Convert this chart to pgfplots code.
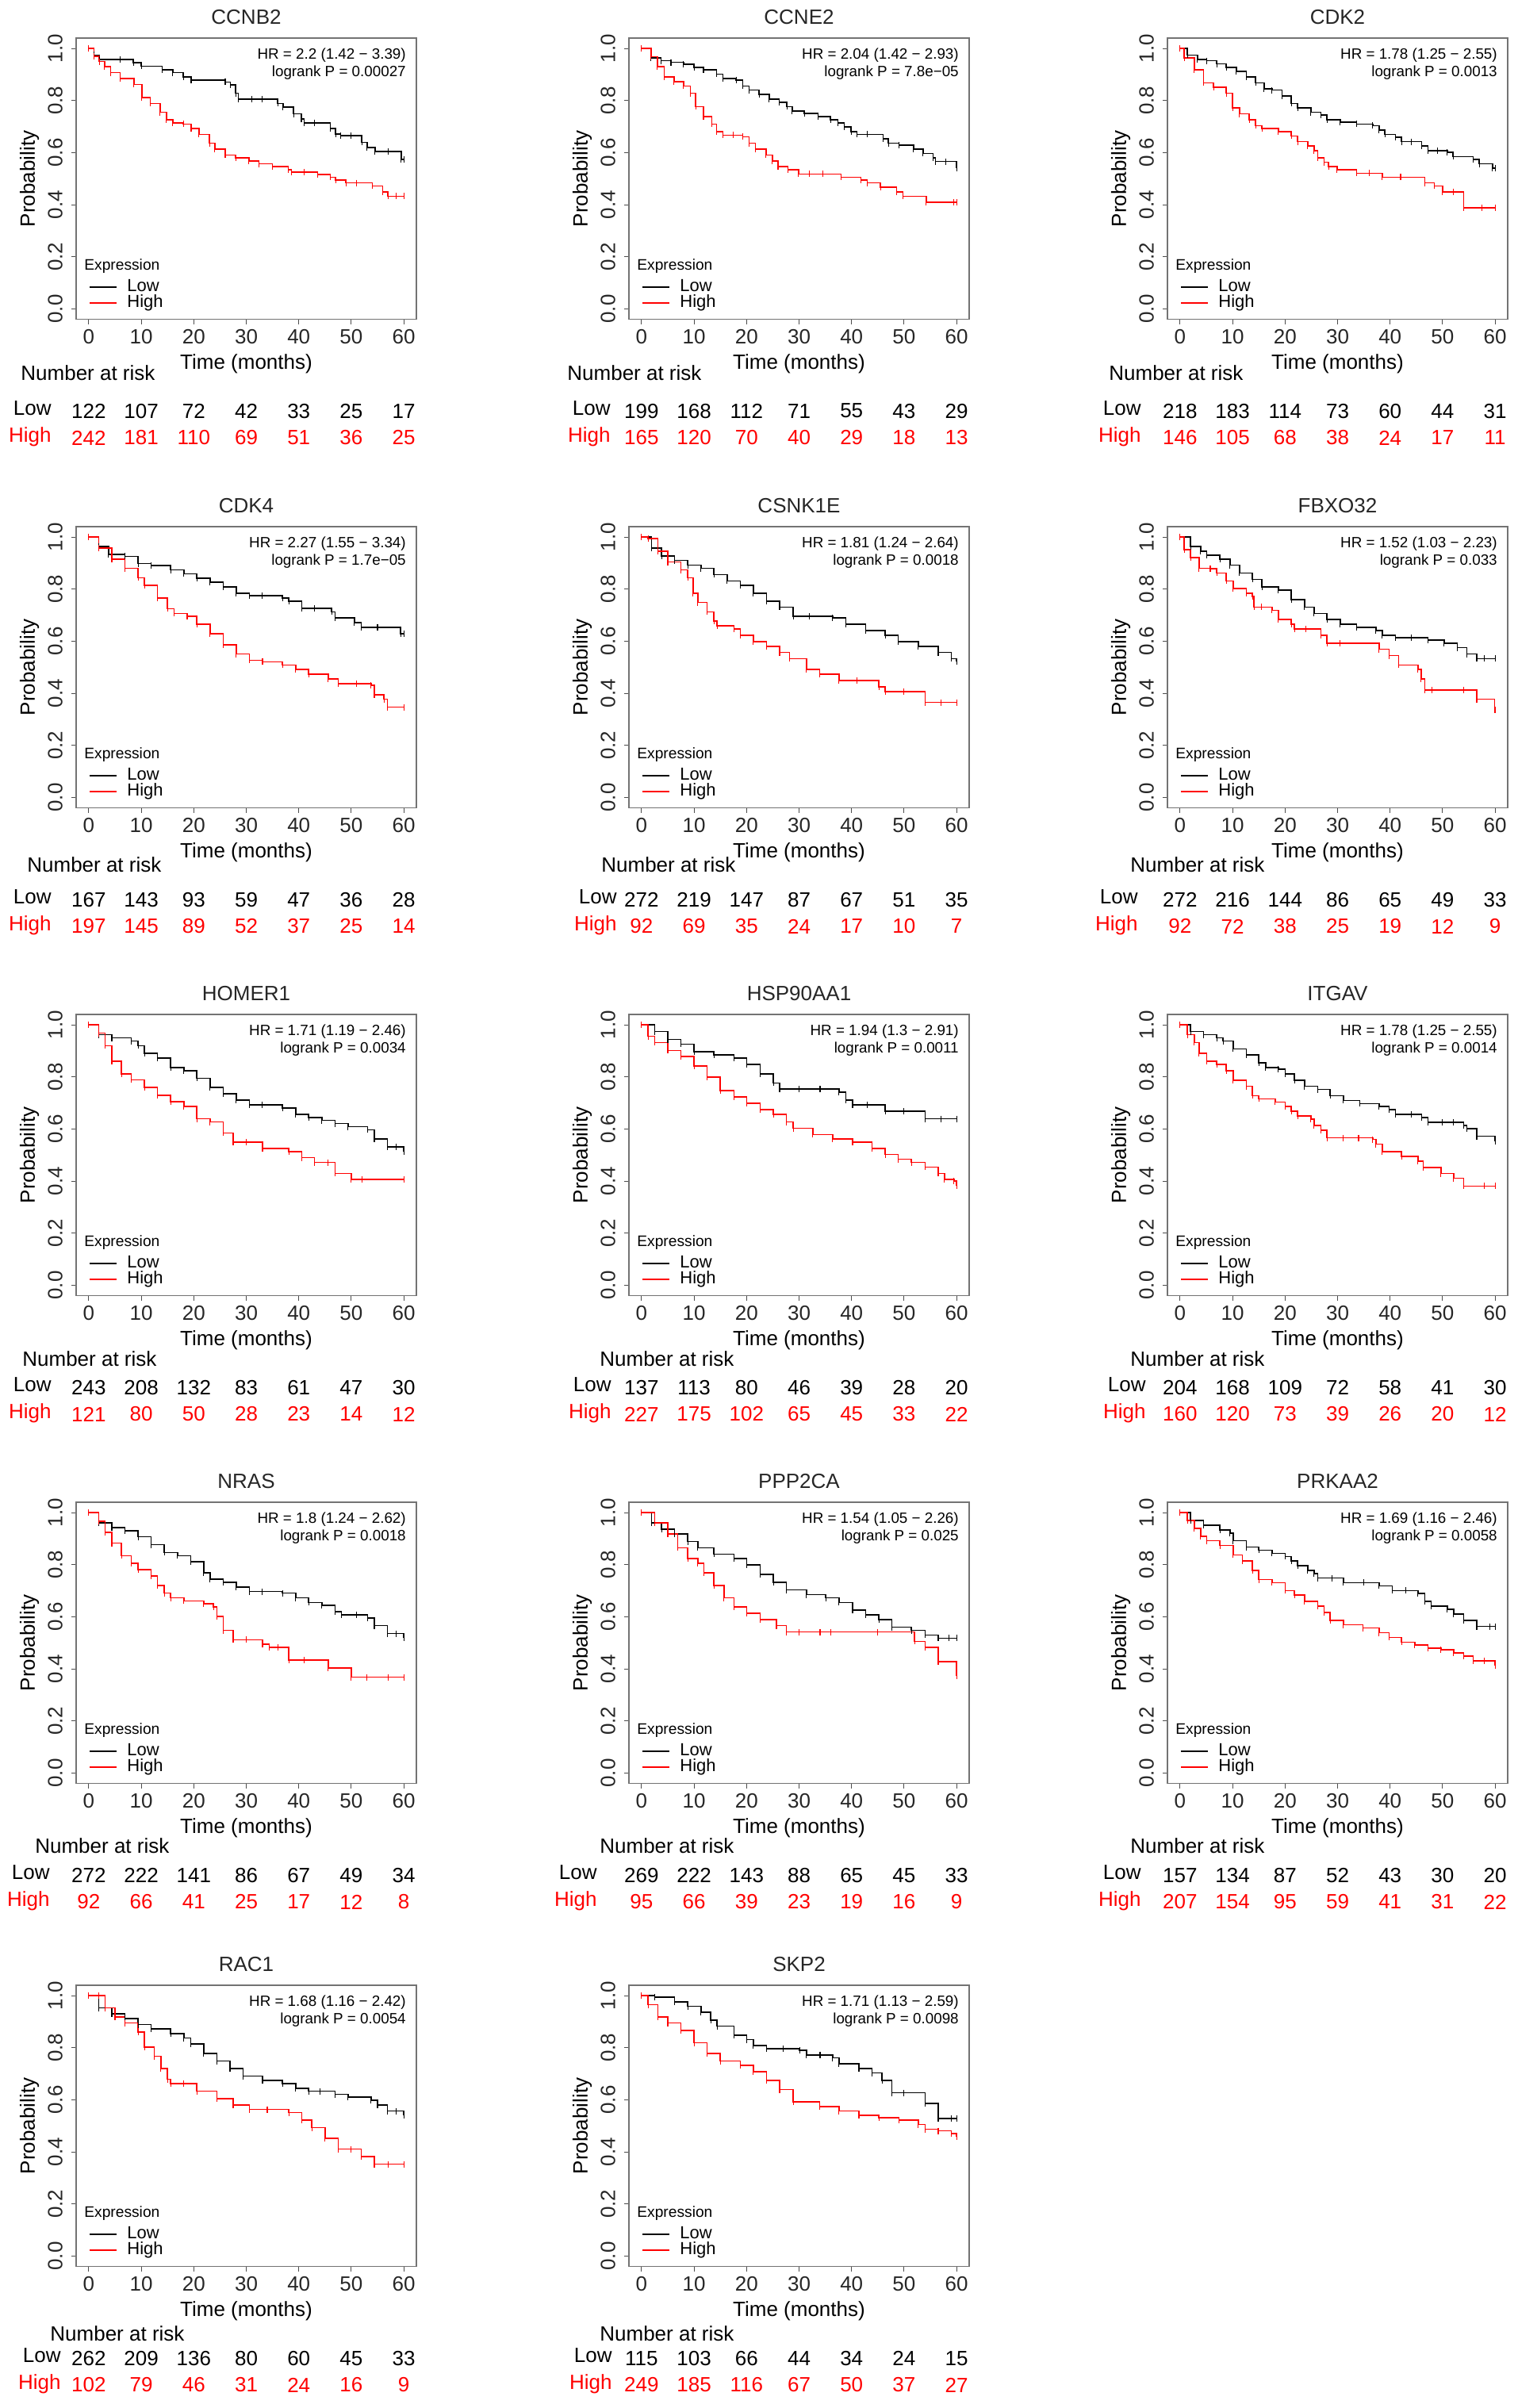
\documentclass[border=0pt]{standalone}
\usepackage{fontspec}
\setmainfont{Liberation Sans}
\usepackage{pgfplots}
\pgfplotsset{compat=1.18}

% font sizes (1 px of the reference = 0.5pt)
\newcommand\fmain{\fontsize{13}{15}\selectfont}
\newcommand\fhr{\fontsize{9.4}{11}\selectfont}
\newcommand\fexp{\fontsize{9.6}{11}\selectfont}
\newcommand\fleg{\fontsize{11}{13}\selectfont}

\tikzset{lab/.style={font=\fmain, inner sep=0pt}}

\pgfplotsset{
  km/.style={
    scale only axis, width=214.5pt, height=177.3pt,
    xmin=-2.4, xmax=62.4, ymin=-0.04, ymax=1.04,
    xtick={0,10,20,30,40,50,60}, xticklabels={0,10,20,30,40,50,60},
    ytick={0,0.2,0.4,0.6,0.8,1}, yticklabels={0.0,0.2,0.4,0.6,0.8,1.0},
    xtick pos=bottom, ytick pos=left,
    tick align=outside, major tick length=3pt,
    every tick/.style={black!70, line width=0.5pt},
    axis line style={black!55, line width=0.8pt},
    ticklabel style={font=\fmain, text=black!85},
    yticklabel style={rotate=90, anchor=south},
    yticklabel shift=2pt,
    clip=false, anchor=north west,
  },
  low/.style={const plot, black, line width=0.8pt, mark=|, mark size=2pt, mark options={solid, line width=0.55pt}},
  high/.style={const plot, red, line width=0.8pt, mark=|, mark size=2pt, mark options={solid, line width=0.55pt}},
}

% height of "Number at risk", set for each row
\def\nary{-0.26}

% titles, legend, labels and row names of one panel
% #1 title, #2 HR, #3 P, #4 x of "Number at risk", #5 x of row names
\newcommand\kmdeco[5]{%
  \node[lab, text=black!85] at (axis cs:30,1.122) {#1};
  \node[font=\fhr, inner sep=0pt, anchor=mid east] at (axis cs:60.45,0.976) {HR = #2};
  \node[font=\fhr, inner sep=0pt, anchor=mid east] at (axis cs:60.45,0.909) {logrank P = #3};
  \node[font=\fexp, inner sep=0pt, anchor=mid west] at (axis cs:-0.89,0.166) {Expression};
  \draw[black, line width=0.7pt] (axis cs:0.17,0.084) -- (axis cs:5.3,0.084);
  \draw[red, line width=0.7pt] (axis cs:0.17,0.023) -- (axis cs:5.3,0.023);
  \node[font=\fleg, inner sep=0pt, anchor=mid west] at (axis cs:7.27,0.084) {Low};
  \node[font=\fleg, inner sep=0pt, anchor=mid west] at (axis cs:7.27,0.023) {High};
  \node[lab, rotate=90] at (axis cs:-11.3,0.5) {Probability};
  \node[lab] at (axis cs:30,-0.212) {Time (months)};
  \node[lab, anchor=mid west] at (axis cs:#4,\nary) {Number at risk};
  \node[lab, anchor=mid east] at (axis cs:#5,-0.392) {Low};
  \node[lab, anchor=mid east, text=red] at (axis cs:#5,-0.495) {High};
}
% one row of the table: #1 y, #2 colour, #3-#9 counts at 0,10,...,60
\newcommand\nar[9]{%
  \node[lab, text=#2] at (axis cs:0,#1) {#3};
  \node[lab, text=#2] at (axis cs:10,#1) {#4};
  \node[lab, text=#2] at (axis cs:20,#1) {#5};
  \node[lab, text=#2] at (axis cs:30,#1) {#6};
  \node[lab, text=#2] at (axis cs:40,#1) {#7};
  \node[lab, text=#2] at (axis cs:50,#1) {#8};
  \node[lab, text=#2] at (axis cs:60,#1) {#9};
}

\begin{document}
\begin{tikzpicture}
\path[use as bounding box] (0,0) rectangle (956.5pt,-1518pt);

% ---------------- row 1
\def\nary{-0.258}
\begin{axis}[km, at={(48pt,-24pt)}]
\addplot[low] coordinates {(0,1)(1,0.975)(2,0.958)(6,0.958)(8.5,0.945)(10,0.932)(14,0.919)(16,0.907)(18,0.89)(19.5,0.879)(26,0.871)(27,0.86)(28,0.828)(28.5,0.806)(31,0.806)(33,0.806)(36,0.789)(37,0.775)(39,0.749)(40.5,0.729)(41,0.715)(43,0.715)(46,0.693)(47,0.672)(48,0.665)(50,0.665)(52,0.64)(53,0.619)(54.5,0.605)(57,0.605)(59.5,0.574)(60,0.574)};
\addplot[high] coordinates {(0,1)(1,0.97)(2,0.95)(3,0.93)(4.2,0.907)(6,0.885)(8.6,0.862)(10.1,0.811)(11.7,0.789)(13.6,0.755)(14.8,0.727)(16,0.715)(18,0.71)(19.5,0.693)(21,0.67)(23,0.636)(24,0.614)(26,0.591)(28,0.58)(30.5,0.568)(32.4,0.557)(35,0.546)(38,0.534)(38.6,0.525)(41,0.525)(43.6,0.517)(46,0.506)(47,0.495)(49,0.484)(51,0.484)(54,0.472)(56,0.45)(57,0.433)(58.5,0.433)(60,0.433)};
\kmdeco{CCNB2}{2.2 (1.42 − 3.39)}{0.00027}{-12.97}{-7.08}
\nar{-0.392}{black}{122}{107}{72}{42}{33}{25}{17}
\nar{-0.495}{red}{242}{181}{110}{69}{51}{36}{25}
\end{axis}

\begin{axis}[km, at={(396.5pt,-24pt)}]
\addplot[low] coordinates {(0,1)(1.8,0.964)(3.7,0.953)(5.6,0.947)(8,0.939)(10,0.928)(11.8,0.919)(14.3,0.902)(15.5,0.885)(18,0.879)(19.3,0.856)(20.5,0.84)(22.4,0.823)(24.3,0.806)(26.2,0.794)(27.7,0.777)(28.7,0.76)(31,0.751)(33.6,0.738)(36,0.727)(37.4,0.715)(38.6,0.698)(39.9,0.681)(41,0.67)(43,0.67)(46,0.653)(47,0.636)(49,0.628)(51.8,0.614)(53.6,0.597)(55.5,0.58)(56,0.566)(58,0.566)(60,0.54)};
\addplot[high] coordinates {(0,1)(1.8,0.969)(3,0.93)(4.3,0.89)(6.2,0.873)(8,0.856)(9.3,0.828)(10.3,0.777)(11.8,0.738)(13.4,0.71)(14.3,0.681)(15.5,0.667)(17.5,0.667)(19.3,0.661)(20.5,0.636)(21.7,0.614)(23.7,0.591)(24.9,0.568)(26,0.546)(27.9,0.534)(29.9,0.518)(32,0.518)(34.5,0.518)(38,0.506)(41.8,0.495)(43,0.484)(45.5,0.467)(48.6,0.45)(49.8,0.433)(54.2,0.41)(59.5,0.41)(60,0.41)};
\kmdeco{CCNE2}{2.04 (1.42 − 2.93)}{7.8e−05}{-14.18}{-5.87}
\nar{-0.392}{black}{199}{168}{112}{71}{55}{43}{29}
\nar{-0.495}{red}{165}{120}{70}{40}{29}{18}{13}
\end{axis}

\begin{axis}[km, at={(736pt,-24pt)}]
\addplot[low] coordinates {(0,1)(1.4,0.975)(3.3,0.958)(5.1,0.953)(7,0.941)(8.8,0.928)(10.7,0.913)(12.6,0.89)(14.4,0.868)(16,0.845)(17.5,0.84)(19.4,0.817)(21.2,0.789)(22.4,0.772)(24.9,0.755)(26.8,0.744)(28,0.727)(30.5,0.718)(33.6,0.71)(36.7,0.704)(37.9,0.687)(39,0.67)(41,0.659)(42.2,0.642)(44,0.642)(46,0.625)(47.2,0.608)(49,0.608)(50.9,0.602)(52,0.585)(55.8,0.574)(57,0.557)(59.5,0.54)(60,0.54)};
\addplot[high] coordinates {(0,1)(0.8,0.964)(2.7,0.919)(4.5,0.868)(6.4,0.851)(8.8,0.828)(10,0.772)(11.3,0.749)(13.2,0.727)(14.4,0.704)(15.6,0.693)(18.7,0.681)(21.2,0.664)(22.4,0.642)(24.3,0.625)(25.5,0.608)(26.2,0.58)(27.4,0.563)(28.3,0.546)(29.9,0.534)(33.6,0.521)(36,0.521)(38.5,0.506)(42,0.506)(46.6,0.484)(48.4,0.472)(50,0.45)(52,0.45)(54,0.388)(57.5,0.388)(60,0.388)};
\kmdeco{CDK2}{1.78 (1.25 − 2.55)}{0.0013}{-13.58}{-7.38}
\nar{-0.392}{black}{218}{183}{114}{73}{60}{44}{31}
\nar{-0.495}{red}{146}{105}{68}{38}{24}{17}{11}
\end{axis}

% ---------------- row 2
\def\nary{-0.270}
\begin{axis}[km, at={(48pt,-332pt)}]
\addplot[low] coordinates {(0,1)(1.9,0.964)(3.75,0.934)(6.9,0.926)(9.4,0.898)(11.9,0.89)(15.6,0.874)(18.1,0.859)(20.6,0.842)(23.1,0.826)(25.6,0.808)(28.1,0.784)(30.6,0.775)(33,0.775)(36.9,0.766)(38.1,0.754)(40.6,0.727)(43,0.727)(46.25,0.713)(46.9,0.689)(50.6,0.671)(51.9,0.653)(55,0.653)(59.4,0.629)(60,0.629)};
\addplot[high] coordinates {(0,1)(1.9,0.958)(4.4,0.916)(6.9,0.88)(9.4,0.844)(10.6,0.814)(13.1,0.766)(15,0.725)(16.25,0.707)(18.75,0.695)(20.6,0.665)(23.1,0.629)(25.6,0.587)(28.1,0.551)(30.6,0.527)(33.1,0.521)(36.9,0.509)(39.4,0.491)(41.9,0.473)(45.6,0.455)(47.5,0.437)(51,0.437)(53.75,0.431)(54.4,0.395)(56.25,0.377)(56.9,0.347)(60,0.347)};
\kmdeco{CDK4}{2.27 (1.55 − 3.34)}{1.7e−05}{-11.77}{-7.08}
\nar{-0.392}{black}{167}{143}{93}{59}{47}{36}{28}
\nar{-0.495}{red}{197}{145}{89}{52}{37}{25}{14}
\end{axis}

\begin{axis}[km, at={(396.5pt,-332pt)}]
\addplot[low] coordinates {(0,1)(1.9,0.958)(3.8,0.928)(6.3,0.91)(8.8,0.892)(11.3,0.88)(13.8,0.856)(16.3,0.832)(18.8,0.814)(21.3,0.784)(23.8,0.754)(26.3,0.731)(28.9,0.695)(32,0.695)(36.4,0.689)(38.9,0.665)(42.7,0.641)(46.4,0.623)(48.9,0.599)(52.7,0.581)(56.5,0.557)(59,0.533)(60,0.521)};
\addplot[high] coordinates {(0,1)(1.25,0.994)(3.1,0.946)(5,0.904)(7.5,0.874)(8.8,0.844)(9.8,0.784)(10.7,0.749)(12.5,0.713)(13.8,0.677)(14.4,0.659)(17.6,0.647)(18.8,0.623)(21.3,0.599)(23.8,0.581)(26.3,0.557)(28.2,0.533)(31.4,0.491)(33.9,0.473)(37.6,0.449)(41,0.449)(45.2,0.425)(46.4,0.407)(50,0.407)(54,0.365)(57,0.365)(60,0.365)};
\kmdeco{CSNK1E}{1.81 (1.24 − 2.64)}{0.0018}{-7.69}{-4.67}
\nar{-0.392}{black}{272}{219}{147}{87}{67}{51}{35}
\nar{-0.495}{red}{92}{69}{35}{24}{17}{10}{7}
\end{axis}

\begin{axis}[km, at={(736pt,-332pt)}]
\addplot[low] coordinates {(0,1)(2,0.964)(3.9,0.946)(5.1,0.93)(7.6,0.916)(9.5,0.892)(11.3,0.862)(13.8,0.838)(15.6,0.808)(18.7,0.796)(21.2,0.76)(23.7,0.731)(25.5,0.707)(28,0.683)(30.5,0.665)(33.6,0.653)(37.3,0.641)(38.5,0.623)(41,0.613)(44,0.613)(47.2,0.605)(50.3,0.593)(52.8,0.575)(54.6,0.551)(56.5,0.533)(58,0.533)(60,0.533)};
\addplot[high] coordinates {(0,1)(0.8,0.952)(2,0.922)(3.6,0.88)(5.75,0.878)(7,0.862)(8.8,0.832)(10.1,0.802)(12.6,0.784)(13.8,0.772)(14.1,0.731)(15.5,0.731)(17.5,0.719)(18.7,0.683)(21.2,0.665)(21.8,0.647)(24,0.647)(26.8,0.623)(28,0.593)(30.5,0.593)(37.9,0.569)(39.8,0.545)(41.6,0.509)(45.3,0.491)(45.9,0.455)(46.6,0.413)(48,0.413)(54,0.413)(56.5,0.377)(59.9,0.335)(60,0.335)};
\kmdeco{FBXO32}{1.52 (1.03 − 2.23)}{0.033}{-9.50}{-7.99}
\nar{-0.392}{black}{272}{216}{144}{86}{65}{49}{33}
\nar{-0.495}{red}{92}{72}{38}{25}{19}{12}{9}
\end{axis}

% ---------------- row 3
\def\nary{-0.294}
\begin{axis}[km, at={(48pt,-639.5pt)}]
\addplot[low] coordinates {(0,1)(1.9,0.962)(4.4,0.95)(8.1,0.938)(9.4,0.92)(10.6,0.89)(13.1,0.872)(15.6,0.836)(18.1,0.824)(20.6,0.795)(23.1,0.759)(25.6,0.735)(28.1,0.711)(30.6,0.693)(33,0.693)(36.9,0.681)(39.4,0.657)(41.9,0.645)(44.4,0.633)(46.9,0.621)(49.4,0.609)(53.1,0.597)(54.4,0.562)(56.9,0.532)(58.5,0.532)(60,0.514)};
\addplot[high] coordinates {(0,1)(1.9,0.968)(3.1,0.92)(4.4,0.86)(6.25,0.812)(8.1,0.789)(10.6,0.759)(13.1,0.729)(15.6,0.705)(18.1,0.687)(20.6,0.639)(23.1,0.627)(25.6,0.585)(27.5,0.55)(30,0.55)(33.1,0.526)(38.1,0.514)(40.6,0.49)(43,0.472)(45.6,0.472)(46.9,0.43)(50,0.406)(52,0.406)(60,0.406)};
\kmdeco{HOMER1}{1.71 (1.19 − 2.46)}{0.0034}{-12.67}{-7.08}
\nar{-0.392}{black}{243}{208}{132}{83}{61}{47}{30}
\nar{-0.495}{red}{121}{80}{50}{28}{23}{14}{12}
\end{axis}

\begin{axis}[km, at={(396.5pt,-639.5pt)}]
\addplot[low] coordinates {(0,1)(2.5,0.974)(5,0.944)(7.5,0.926)(10,0.896)(13.8,0.884)(17.6,0.872)(20,0.848)(22.6,0.812)(25.1,0.777)(26.3,0.753)(30,0.753)(34,0.753)(37.6,0.741)(38.9,0.711)(40.2,0.693)(43,0.693)(46.4,0.669)(50,0.669)(54,0.639)(57,0.639)(60,0.639)};
\addplot[high] coordinates {(0,1)(1.25,0.956)(2.5,0.932)(5,0.902)(7.5,0.878)(10,0.842)(12.5,0.8)(15,0.747)(17.6,0.723)(20,0.699)(22.6,0.675)(25.1,0.657)(27.6,0.627)(28.9,0.603)(32.6,0.579)(36.4,0.562)(40.2,0.55)(43.9,0.526)(46.4,0.502)(48.9,0.484)(51.4,0.472)(54,0.454)(56.5,0.43)(57.7,0.406)(59.5,0.4)(60,0.382)};
\kmdeco{HSP90AA1}{1.94 (1.3 − 2.91)}{0.0011}{-7.99}{-5.72}
\nar{-0.392}{black}{137}{113}{80}{46}{39}{28}{20}
\nar{-0.495}{red}{227}{175}{102}{65}{45}{33}{22}
\end{axis}

\begin{axis}[km, at={(736pt,-639.5pt)}]
\addplot[low] coordinates {(0,1)(2,0.974)(4.5,0.962)(7,0.95)(8.2,0.938)(10.1,0.908)(12.6,0.884)(15,0.854)(16.3,0.836)(18.7,0.83)(20,0.812)(21.8,0.788)(23.7,0.764)(26.2,0.752)(28.6,0.728)(31.1,0.71)(34.2,0.698)(37.9,0.686)(39.8,0.674)(41,0.656)(44,0.656)(46,0.644)(47.2,0.626)(50,0.626)(52,0.626)(54,0.614)(54.6,0.602)(56.5,0.572)(60,0.554)};
\addplot[high] coordinates {(0,1)(1.4,0.962)(2.7,0.932)(3.6,0.89)(5.1,0.86)(7,0.848)(8.8,0.824)(10.1,0.788)(12.6,0.764)(13.8,0.728)(15,0.716)(18.1,0.704)(20,0.686)(21.2,0.668)(22.4,0.65)(24.9,0.638)(25.5,0.614)(26.8,0.596)(28,0.566)(31,0.566)(34,0.566)(36.7,0.56)(37.3,0.542)(38.5,0.513)(42.2,0.495)(45.3,0.477)(46.3,0.453)(49.7,0.429)(52.1,0.411)(54,0.381)(58,0.381)(60,0.381)};
\kmdeco{ITGAV}{1.78 (1.25 − 2.55)}{0.0014}{-9.50}{-6.48}
\nar{-0.392}{black}{204}{168}{109}{72}{58}{41}{30}
\nar{-0.495}{red}{160}{120}{73}{39}{26}{20}{12}
\end{axis}

% ---------------- row 4
\def\nary{-0.291}
\begin{axis}[km, at={(48pt,-947pt)}]
\addplot[low] coordinates {(0,1)(1.9,0.961)(4.4,0.943)(6.9,0.931)(9.4,0.907)(11.9,0.877)(14.4,0.847)(16.9,0.835)(19.4,0.811)(21.9,0.769)(23.1,0.745)(25.6,0.733)(28.1,0.715)(30.6,0.697)(33,0.697)(36.9,0.691)(39.4,0.673)(41.9,0.655)(44.4,0.644)(46.9,0.62)(48.1,0.608)(51,0.608)(53.1,0.596)(54.4,0.566)(56.9,0.536)(58.5,0.536)(60,0.518)};
\addplot[high] coordinates {(0,1)(1.9,0.967)(3.1,0.925)(4.4,0.883)(6.25,0.835)(8.1,0.805)(9.4,0.781)(11.9,0.757)(13.1,0.721)(14.4,0.691)(15.6,0.673)(18.1,0.661)(21.9,0.65)(23.75,0.638)(24.4,0.602)(25.6,0.548)(27.5,0.512)(30,0.512)(33.1,0.494)(34.4,0.482)(36,0.482)(38.1,0.434)(41,0.434)(45.6,0.404)(50,0.368)(53,0.368)(57,0.368)(60,0.368)};
\kmdeco{NRAS}{1.8 (1.24 − 2.62)}{0.0018}{-10.26}{-7.38}
\nar{-0.392}{black}{272}{222}{141}{86}{67}{49}{34}
\nar{-0.495}{red}{92}{66}{41}{25}{17}{12}{8}
\end{axis}

\begin{axis}[km, at={(396.5pt,-947pt)}]
\addplot[low] coordinates {(0,1)(1.9,0.961)(3.8,0.937)(6.3,0.919)(8.8,0.889)(10.7,0.865)(13.8,0.841)(17.6,0.823)(20,0.799)(22.6,0.763)(25.1,0.733)(27.6,0.703)(31.4,0.685)(35.1,0.673)(37.6,0.655)(40.2,0.626)(42.7,0.608)(45.2,0.59)(47.7,0.56)(51.4,0.548)(54,0.53)(56.5,0.518)(58.5,0.518)(60,0.518)};
\addplot[high] coordinates {(0,1)(2.5,0.961)(5,0.919)(6.9,0.865)(8.8,0.823)(10.7,0.805)(11.9,0.769)(13.8,0.721)(15.7,0.673)(17.6,0.638)(20,0.614)(22.6,0.59)(25.7,0.566)(27.6,0.542)(30,0.542)(34,0.542)(36,0.542)(45,0.542)(52,0.506)(54,0.482)(56.5,0.428)(60,0.374)};
\kmdeco{PPP2CA}{1.54 (1.05 − 2.26)}{0.025}{-7.99}{-8.44}
\nar{-0.392}{black}{269}{222}{143}{88}{65}{45}{33}
\nar{-0.495}{red}{95}{66}{39}{23}{19}{16}{9}
\end{axis}

\begin{axis}[km, at={(736pt,-947pt)}]
\addplot[low] coordinates {(0,1)(2,0.97)(4.5,0.952)(7.6,0.934)(9.5,0.922)(10.1,0.892)(12.6,0.868)(15,0.856)(17.5,0.844)(20,0.832)(21.2,0.814)(22.4,0.796)(24.3,0.778)(25.5,0.766)(26.2,0.749)(29,0.749)(31.1,0.731)(35,0.731)(37.9,0.719)(40.4,0.701)(43,0.701)(45.3,0.689)(46.6,0.659)(47.8,0.641)(50.9,0.629)(52.1,0.611)(54,0.587)(56.5,0.563)(59,0.563)(60,0.563)};
\addplot[high] coordinates {(0,1)(1.4,0.97)(2.7,0.94)(3.9,0.91)(5.1,0.892)(7.6,0.874)(10.1,0.838)(11.9,0.814)(13.8,0.778)(15,0.743)(17.5,0.731)(20,0.701)(21.8,0.683)(23.7,0.659)(26.2,0.641)(27.4,0.617)(28.6,0.587)(31.1,0.569)(34.8,0.557)(37.9,0.539)(39.8,0.521)(42.2,0.503)(44.7,0.491)(47.2,0.479)(49.7,0.473)(52.1,0.461)(54,0.449)(55.8,0.431)(58,0.431)(60,0.413)};
\kmdeco{PRKAA2}{1.69 (1.16 − 2.46)}{0.0058}{-9.50}{-7.38}
\nar{-0.392}{black}{157}{134}{87}{52}{43}{30}{20}
\nar{-0.495}{red}{207}{154}{95}{59}{41}{31}{22}
\end{axis}

% ---------------- row 5
\def\nary{-0.309}
\begin{axis}[km, at={(48pt,-1251.5pt)}]
\addplot[low] coordinates {(0,1)(1.9,0.953)(4.4,0.93)(6.9,0.913)(9.4,0.889)(11.9,0.872)(15.6,0.854)(18.1,0.837)(19.4,0.814)(21.9,0.779)(24.4,0.749)(26.9,0.72)(29.4,0.691)(33.1,0.674)(36.9,0.662)(39.4,0.645)(41.9,0.633)(44,0.633)(46.9,0.621)(49.4,0.61)(53.75,0.598)(55,0.58)(56.9,0.557)(58.5,0.557)(60,0.54)};
\addplot[high] coordinates {(0,1)(1.9,1)(3.1,0.953)(5,0.918)(6.9,0.895)(9.4,0.86)(10.6,0.802)(12.5,0.767)(13.75,0.72)(15,0.679)(15.6,0.662)(18,0.662)(20.6,0.633)(24.4,0.604)(27.5,0.58)(30.6,0.563)(34,0.563)(38.1,0.551)(40.6,0.522)(42.5,0.493)(45,0.452)(47.5,0.411)(50,0.411)(51.9,0.382)(54.4,0.353)(57,0.353)(60,0.353)};
\kmdeco{RAC1}{1.68 (1.16 − 2.42)}{0.0054}{-7.38}{-5.27}
\nar{-0.392}{black}{262}{209}{136}{80}{60}{45}{33}
\nar{-0.495}{red}{102}{79}{46}{31}{24}{16}{9}
\end{axis}

\begin{axis}[km, at={(396.5pt,-1251.5pt)}]
\addplot[low] coordinates {(0,1)(2.5,0.994)(6.3,0.977)(8.8,0.959)(11.3,0.936)(13.2,0.907)(14.4,0.883)(17.6,0.848)(20,0.831)(21.3,0.808)(23.8,0.796)(27,0.796)(30.1,0.79)(31.4,0.773)(34,0.773)(36.4,0.761)(37.6,0.738)(41.4,0.72)(43.9,0.703)(45.8,0.674)(47.7,0.627)(50,0.627)(54,0.586)(56.5,0.528)(59,0.528)(60,0.528)};
\addplot[high] coordinates {(0,1)(1.25,0.965)(3.1,0.918)(5,0.895)(7.5,0.866)(10,0.819)(12.5,0.779)(15,0.749)(18.8,0.732)(21.3,0.709)(23.8,0.674)(26.3,0.639)(28.9,0.592)(33.9,0.575)(37.6,0.557)(41.4,0.54)(45.2,0.531)(49,0.522)(52.7,0.505)(54,0.487)(56.5,0.481)(59,0.47)(60,0.458)};
\kmdeco{SKP2}{1.71 (1.13 − 2.59)}{0.0098}{-7.99}{-5.57}
\nar{-0.392}{black}{115}{103}{66}{44}{34}{24}{15}
\nar{-0.495}{red}{249}{185}{116}{67}{50}{37}{27}
\end{axis}

\end{tikzpicture}
\end{document}
